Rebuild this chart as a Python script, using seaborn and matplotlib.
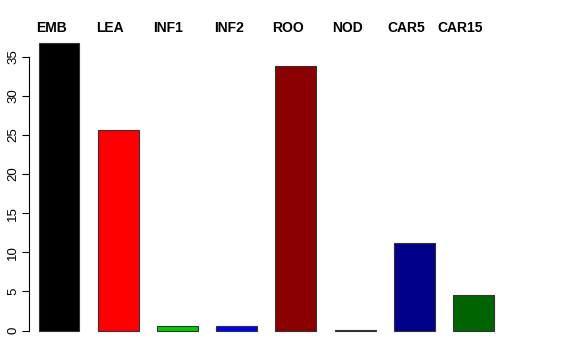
import matplotlib
matplotlib.use("Agg")
import matplotlib.pyplot as plt
import matplotlib.transforms as mtransforms
import seaborn as sns
import pandas as pd

categories = ["EMB", "LEA", "INF1", "INF2", "ROO", "NOD", "CAR5", "CAR15"]
values = [36.8, 25.7, 0.55, 0.55, 33.8, 0.05, 11.2, 4.5]
colors = ["#000000", "#FF0000", "#00CD00", "#0000FF", "#8B0000", "#808080", "#00008B", "#006400"]
yticks = [0, 5, 10, 15, 20, 25, 30, 35]
label_offsets = [-0.12, -0.14, -0.16, -0.13, -0.14, -0.12, -0.13, -0.22]

sns.set_style("white")
plt.rcParams["font.family"] = ["Liberation Sans", "DejaVu Sans"]

W, H = 576, 360
fig = plt.figure(figsize=(W / 100, H / 100), dpi=100)
left, right, top, bottom = 29, 504, 31, 342
ax = fig.add_axes([left / W, 1 - bottom / H, (right - left) / W, (bottom - top) / H])

df = pd.DataFrame({"cat": categories, "val": values})
sns.barplot(data=df, x="cat", y="val", hue="cat", palette=colors, legend=False,
            width=0.69, edgecolor="#333333", linewidth=0.8, saturation=1, ax=ax)

ax.set_xlim(-0.507, 7.515)
ax.set_ylim(-1.47, 38.3)
for s in ["top", "right", "bottom"]:
    ax.spines[s].set_visible(False)
ax.spines["left"].set_bounds(0, 35)
ax.spines["left"].set_color("#000000")
ax.spines["left"].set_linewidth(0.8)
ax.set_yticks(yticks)
ax.set_yticklabels([str(t) for t in yticks], rotation=90, va="center", fontsize=9.5, color="#000000")
ax.tick_params(axis="y", left=True, length=5, width=0.8, pad=2, color="#000000")
ax.set_xticks([])
ax.set_xlabel("")
ax.set_ylabel("")

trans = mtransforms.blended_transform_factory(ax.transData, fig.transFigure)
for i, c in enumerate(categories):
    ax.text(i + label_offsets[i], 1 - 28 / H, c, transform=trans, ha="center", va="center",
            fontsize=10, fontweight="bold", color="#000000", clip_on=False)

fig.savefig("out.png", dpi=100)
